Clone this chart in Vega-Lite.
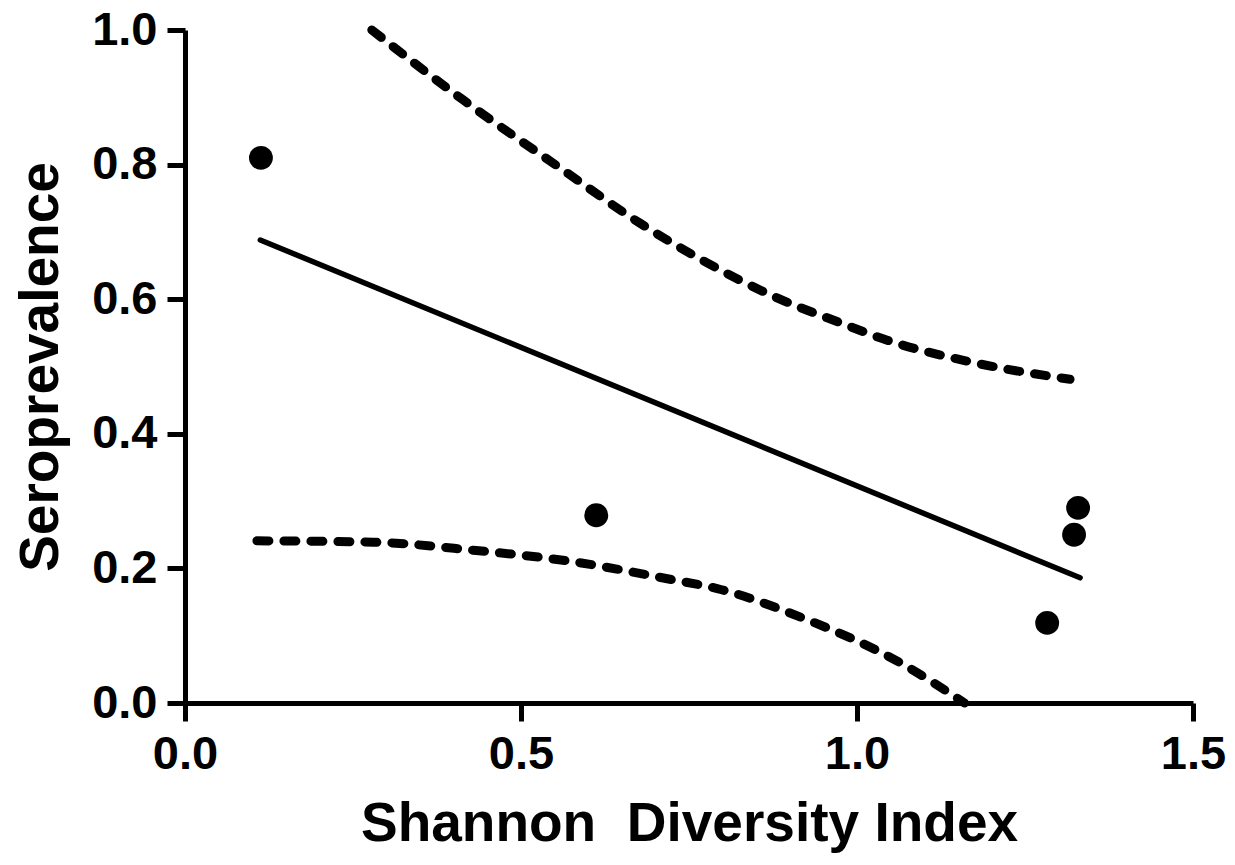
{
  "$schema": "https://vega.github.io/schema/vega-lite/v6.json",
  "autosize": {"type": "none"},
  "width": 1008,
  "height": 673,
  "padding": {"left": 185, "top": 30, "right": 42, "bottom": 162},
  "background": "white",
  "config": {
    "view": {"stroke": null},
    "axis": {
      "grid": false,
      "domainColor": "black",
      "domainWidth": 5,
      "tickColor": "black",
      "tickWidth": 5,
      "tickSize": 18,
      "labelFont": "Liberation Sans",
      "labelFontWeight": "bold",
      "labelFontSize": 47,
      "labelColor": "black",
      "labelPadding": 10,
      "labelFlush": false,
      "labelOverlap": false,
      "titleFont": "Liberation Sans",
      "titleFontWeight": "bold",
      "titleFontSize": 55,
      "titleColor": "black"
    }
  },
  "datasets": {
    "points": [
      {"x": 0.113, "y": 0.810},
      {"x": 0.612, "y": 0.279},
      {"x": 1.283, "y": 0.119},
      {"x": 1.323, "y": 0.250},
      {"x": 1.329, "y": 0.290}
    ],
    "fit": [
      {"x": 0.112, "y": 0.688},
      {"x": 1.332, "y": 0.186}
    ],
    "upper": [
      {"x": 0.278, "y": 1.0},
      {"x": 0.414, "y": 0.896},
      {"x": 0.5625, "y": 0.792},
      {"x": 0.677, "y": 0.713},
      {"x": 0.777, "y": 0.654},
      {"x": 0.881, "y": 0.602},
      {"x": 0.975, "y": 0.565},
      {"x": 1.045, "y": 0.539},
      {"x": 1.168, "y": 0.507},
      {"x": 1.317, "y": 0.481}
    ],
    "lower": [
      {"x": 0.107, "y": 0.241},
      {"x": 0.280, "y": 0.239},
      {"x": 0.429, "y": 0.227},
      {"x": 0.577, "y": 0.210},
      {"x": 0.726, "y": 0.183},
      {"x": 0.792, "y": 0.170},
      {"x": 0.915, "y": 0.128},
      {"x": 1.064, "y": 0.060},
      {"x": 1.160, "y": 0.0}
    ]
  },
  "layer": [
    {
      "data": {"name": "upper"},
      "mark": {"type": "line", "color": "black", "strokeWidth": 9, "strokeCap": "round", "strokeDash": [12, 15], "interpolate": "monotone"},
      "encoding": {
        "x": {
          "field": "x", "type": "quantitative",
          "scale": {"domain": [0, 1.5], "nice": false},
          "axis": {"values": [0, 0.5, 1, 1.5], "format": ".1f", "title": "Shannon\u00a0 Diversity Index", "titlePadding": 20}
        },
        "y": {
          "field": "y", "type": "quantitative",
          "scale": {"domain": [0, 1], "nice": false},
          "axis": {"values": [0, 0.2, 0.4, 0.6, 0.8, 1.0], "format": ".1f", "title": "Seroprevalence", "titlePadding": 22}
        }
      }
    },
    {
      "data": {"name": "lower"},
      "mark": {"type": "line", "color": "black", "strokeWidth": 9, "strokeCap": "round", "strokeDash": [12, 15], "interpolate": "monotone"},
      "encoding": {
        "x": {"field": "x", "type": "quantitative"},
        "y": {"field": "y", "type": "quantitative"}
      }
    },
    {
      "data": {"name": "fit"},
      "mark": {"type": "line", "color": "black", "strokeWidth": 5.5, "strokeCap": "round"},
      "encoding": {
        "x": {"field": "x", "type": "quantitative"},
        "y": {"field": "y", "type": "quantitative"}
      }
    },
    {
      "data": {"name": "points"},
      "mark": {"type": "circle", "color": "black", "opacity": 1, "size": 570},
      "encoding": {
        "x": {"field": "x", "type": "quantitative"},
        "y": {"field": "y", "type": "quantitative"}
      }
    }
  ]
}
